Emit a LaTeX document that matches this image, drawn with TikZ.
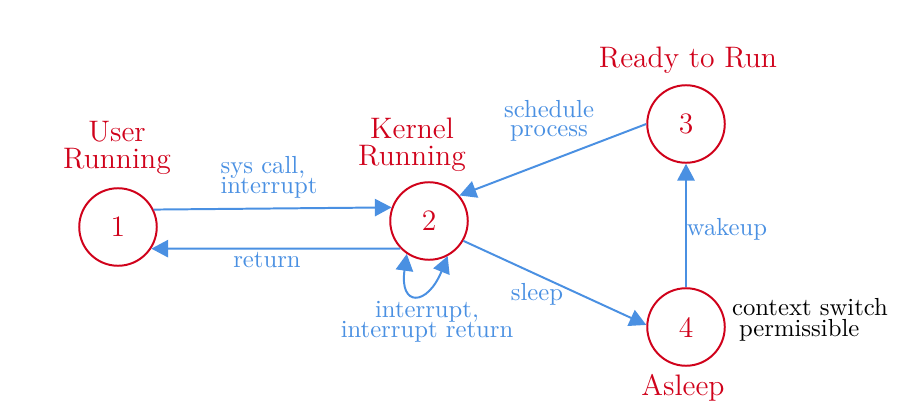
\documentclass[tikz,border=0pt]{standalone}
\usetikzlibrary{arrows.meta}
\definecolor{sred}{HTML}{D0021B}
\definecolor{sblue}{HTML}{4A90E2}
\begin{document}
\begin{tikzpicture}[x=0.405pt,y=0.405pt,
  state/.style={circle,draw=sred,line width=0.8pt,text=sred,font=\large,minimum size=31.4pt,inner sep=0pt},
  slabel/.style={text=sred,font=\large,align=center,inner sep=0pt},
  elabel/.style={text=sblue,inner sep=0pt},
  conn/.style={draw=sblue,line width=0.8pt,-{Triangle[length=6.8pt,width=7pt]}},
  note/.style={text=black,align=left,inner sep=0pt}]
\useasboundingbox (0,0) rectangle (916,410);
\node[state] (n1) at (118,183) {1};
\node[state] (n2) at (429,189) {2};
\node[state] (n3) at (686,286) {3};
\node[state] (n4) at (686,83) {4};
\node[slabel] (l1) at (117,262) {User\\[-3pt]Running};
\node[slabel] (l2) at (412,265) {Kernel\\[-3pt]Running};
\node[slabel] (l3) at (688,350) {Ready to Run};
\node[slabel] (l4) at (683,22) {Asleep};
\draw[conn] (n1.26) -- (n2.160);
\draw[conn] (n2.224) -- (n1.-33);
\draw[conn] (n3.180) -- (n2.40);
\draw[conn] (n4.90) -- (n3.270);
\draw[conn] (n2.-30) -- (n4.177);
\draw[conn,{Triangle[length=6.8pt,width=7pt]}-{Triangle[length=6.8pt,width=7pt]}] (n2.236) .. controls +(262:54) and +(248:54) .. (n2.298);
\node[elabel,align=left] (e12) at (269,233) {sys call,\\[-4pt]interrupt};
\node[elabel] (e21) at (267,150) {return};
\node[elabel,align=center] (e22) at (427,88) {interrupt,\\[-4pt]interrupt return};
\node[elabel,align=center] (e32) at (549,289) {schedule\\[-4.5pt]process};
\node[elabel] (e43) at (727,181) {wakeup};
\node[elabel] (e24) at (537,116) {sleep};
\node[note] (cs) at (810,90) {context switch\\[-3.5pt]\hspace{2.8pt}permissible};
\end{tikzpicture}
\end{document}
